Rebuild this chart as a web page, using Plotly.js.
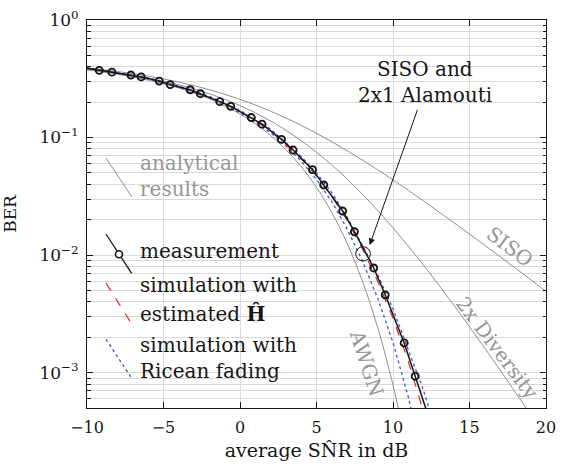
<!DOCTYPE html>
<html><head><meta charset="utf-8">
<script src="https://cdn.plot.ly/plotly-3.0.1.min.js"></script>
<style>html,body{margin:0;padding:0;background:#fff}#chart{width:573px;height:467px}</style>
</head><body><div id="chart"></div>
<script>
// ---- data ----
const measSnr = [-10, -9.20, -8.37, -7.13, -6.46, -5.28, -4.56, -3.26, -2.59, -1.32, -0.60, 0.74, 1.44, 2.71, 3.47, 4.74, 5.47, 6.71, 7.48, 8.74, 9.49, 10.73, 11.45, 12.5];
const measBer = [0.388, 0.373, 0.360, 0.340, 0.328, 0.302, 0.282, 0.255, 0.236, 0.202, 0.184, 0.148, 0.130, 0.0964, 0.0783, 0.0533, 0.0395, 0.0237, 0.0158, 0.00777, 0.00459, 0.00179, 0.000932, 0.00036];

const estSnr = [-10, -8, -6, -4, -2, 0, 2, 4, 5, 6, 7, 8, 9, 10, 11, 12, 12.5];
const estBer = [0.388, 0.354, 0.318, 0.270, 0.220, 0.167, 0.114, 0.066, 0.047, 0.0315, 0.0198, 0.0113, 0.0060, 0.0029, 0.00125, 0.00048, 0.00028];

const riceSisoSnr = [-10, -8, -6, -4, -2, 0, 2, 3, 4, 5, 6, 7, 8, 9, 10, 11, 11.5];
const riceSisoBer = [0.386, 0.352, 0.316, 0.268, 0.217, 0.163, 0.110, 0.085, 0.063, 0.044, 0.0285, 0.0167, 0.0089, 0.0043, 0.0018, 0.00062, 0.00033];

const riceAlaSnr = [-10, -8, -6, -4, -2, 0, 2, 4, 5, 6, 7, 8, 9, 10, 11, 12, 12.5];
const riceAlaBer = [0.392, 0.357, 0.322, 0.274, 0.224, 0.170, 0.118, 0.069, 0.050, 0.034, 0.021, 0.0121, 0.0068, 0.0035, 0.00158, 0.00070, 0.00043];

const awgnSnr = [-10, -8, -6, -4, -2, 0, 1, 2, 3, 4, 5, 6, 7, 8, 9, 10, 10.5, 11];
const awgnBer = [0.376, 0.345, 0.308, 0.264, 0.2135, 0.1587, 0.1309, 0.104, 0.0789, 0.0565, 0.0377, 0.0230, 0.01258, 0.0060, 0.00242, 0.000783, 0.000404, 0.000194];

const sisoSnr = [-10, -8, -6, -4, -2, 0, 2, 4, 6, 8, 10, 12, 14, 16, 18, 20];
const sisoBer = [0.391, 0.3645, 0.333, 0.2963, 0.2551, 0.2113, 0.1676, 0.1269, 0.0921, 0.0643, 0.0436, 0.02885, 0.01879, 0.01211, 0.00774, 0.00492];

const divSnr = [-10, -8, -6, -4, -2, 0, 2, 4, 6, 8, 10, 12, 14, 16, 18, 19, 20];
const divBer = [0.3838, 0.3555, 0.3213, 0.2812, 0.2357, 0.1870, 0.1383, 0.0941, 0.0584, 0.03297, 0.01706, 0.008194, 0.003714, 0.001613, 0.00068, 0.000438, 0.00028];

const xTickVals = [-10, -5, 0, 5, 10, 15, 20];
const yTickVals = [1e-3, 1e-2, 1e-1, 1];
const yTickText = ['10<sup>\u22123</sup>', '10<sup>\u22122</sup>', '10<sup>\u22121</sup>', '10<sup>0</sup>'];

// ---- styling ----
const FONT = 'DejaVu Serif, Liberation Serif, serif';
const INK = '#161616';
const GRAYLINE = '#8f8f8f';
const GRAYTEXT = '#969696';
const GRID = '#d9d9d9';

const minorY = [];
for (let e = -4; e <= -1; e++) {
  for (let m = 2; m <= 9; m++) {
    const v = m * Math.pow(10, e);
    if (v >= 5e-4 && v < 1) minorY.push(v);
  }
}

const n = measSnr.length;
const traces = [
  {x: sisoSnr, y: sisoBer, mode: 'lines', line: {color: GRAYLINE, width: 1, shape: 'spline'}},
  {x: divSnr, y: divBer, mode: 'lines', line: {color: GRAYLINE, width: 1, shape: 'spline'}},
  {x: awgnSnr, y: awgnBer, mode: 'lines', line: {color: GRAYLINE, width: 1, shape: 'spline'}},
  {x: riceSisoSnr, y: riceSisoBer, mode: 'lines', line: {color: '#3a5bd0', width: 1.3, dash: 'dot'}},
  {x: riceAlaSnr, y: riceAlaBer, mode: 'lines', line: {color: '#3a5bd0', width: 1.3, dash: 'dot'}},
  {x: estSnr, y: estBer, mode: 'lines', line: {color: '#e3262a', width: 1.2, dash: 'dash'}},
  {x: measSnr, y: measBer, mode: 'lines', line: {color: INK, width: 1.5}},
  {x: measSnr.slice(1, n - 1), y: measBer.slice(1, n - 1), mode: 'markers',
   marker: {symbol: 'circle-open', size: 7, color: INK, line: {width: 1.9, color: INK}}}
];

const P = (px) => (px - 87) / 459.5;
const Q = (py) => (408 - py) / 388;

function txt(t, x, y, opts) {
  return Object.assign({xref: 'paper', yref: 'paper', x: x, y: y, text: t, showarrow: false,
    xanchor: 'left', yanchor: 'middle', font: {family: FONT, size: 20, color: INK}}, opts || {});
}

const annotations = [
  txt('analytical', P(138), Q(163.3), {font: {family: FONT, size: 20, color: GRAYTEXT}}),
  txt('results', P(138), Q(188.8), {font: {family: FONT, size: 20, color: GRAYTEXT}}),
  txt('measurement', P(138), Q(250.7)),
  txt('simulation with', P(138), Q(284.7)),
  txt('estimated <b>\u0124</b>', P(138), Q(313.8)),
  txt('simulation with', P(138), Q(344.7)),
  txt('Ricean fading', P(138), Q(371.3)),
  txt('SISO and', P(425), Q(68.8), {xanchor: 'center'}),
  txt('2x1 Alamouti', P(425), Q(94.5), {xanchor: 'center'}),
  txt('SISO', P(510.8), Q(246.7), {xanchor: 'center', textangle: 37, font: {family: FONT, size: 20, color: GRAYTEXT}}),
  txt('2x Diversity', P(497.5), Q(348.3), {xanchor: 'center', textangle: 53, font: {family: FONT, size: 20, color: GRAYTEXT}}),
  txt('AWGN', P(366.7), Q(363.3), {xanchor: 'center', textangle: 72, font: {family: FONT, size: 20, color: GRAYTEXT}}),
  {xref: 'paper', yref: 'paper', x: P(370), y: Q(245), text: '', showarrow: true,
   ax: 48.3, ay: -136.7, arrowhead: 2, arrowsize: 1.3, arrowwidth: 1, arrowcolor: INK}
];

const shapes = [
  {type: 'line', xref: 'paper', yref: 'paper', x0: P(106), y0: Q(158), x1: P(132), y1: Q(197), line: {color: GRAYLINE, width: 1}},
  {type: 'line', xref: 'paper', yref: 'paper', x0: P(106), y0: Q(234), x1: P(131.7), y1: Q(273.3), line: {color: INK, width: 1.3}},
  {type: 'circle', xref: 'paper', yref: 'paper', x0: P(115.5), y0: Q(257.8), x1: P(122.5), y1: Q(250.8), fillcolor: '#fff', line: {color: INK, width: 1.6}},
  {type: 'line', xref: 'paper', yref: 'paper', x0: P(106), y0: Q(283), x1: P(131), y1: Q(322.7), line: {color: '#e3262a', width: 1.2, dash: 'dash'}},
  {type: 'line', xref: 'paper', yref: 'paper', x0: P(106), y0: Q(339.3), x1: P(131), y1: Q(377), line: {color: '#3a5bd0', width: 1.3, dash: 'dot'}},
  {type: 'circle', xref: 'paper', yref: 'paper', x0: P(356), y0: Q(261), x1: P(370.7), y1: Q(246.7), line: {color: INK, width: 1}}
];

const layout = {
  width: 573, height: 467,
  margin: {l: 87, r: 26.5, t: 20, b: 59, pad: 0},
  paper_bgcolor: '#fff', plot_bgcolor: '#fff',
  showlegend: false,
  font: {family: FONT, size: 16, color: INK},
  xaxis: {
    range: [-10, 20], tickmode: 'array', tickvals: xTickVals,
    ticks: 'inside', ticklen: 6, tickwidth: 1, tickcolor: INK,
    showline: true, linecolor: INK, linewidth: 1, mirror: 'ticks',
    showgrid: true, gridcolor: GRID, gridwidth: 1, zeroline: false,
    tickfont: {family: FONT, size: 16, color: INK}, ticklabelstandoff: 5,
    title: {text: 'average SN\u0302R in dB', font: {family: FONT, size: 19, color: INK}, standoff: 7}
  },
  yaxis: {
    type: 'log', range: [Math.log10(5e-4), 0], tickmode: 'array', tickvals: yTickVals, ticktext: yTickText,
    ticks: 'inside', ticklen: 6, tickwidth: 1, tickcolor: INK,
    minor: {tickmode: 'array', tickvals: minorY, ticks: 'inside', ticklen: 3.5, tickcolor: INK, showgrid: true, gridcolor: GRID, gridwidth: 1},
    showline: true, linecolor: INK, linewidth: 1, mirror: 'ticks',
    showgrid: true, gridcolor: GRID, gridwidth: 1, zeroline: false,
    tickfont: {family: FONT, size: 17, color: INK}, ticklabelstandoff: 4,
    title: {text: 'BER', font: {family: FONT, size: 17, color: INK}, standoff: 18}
  },
  annotations: annotations,
  shapes: shapes
};

Plotly.newPlot('chart', traces, layout, {staticPlot: true, displayModeBar: false});
</script>
</body></html>
